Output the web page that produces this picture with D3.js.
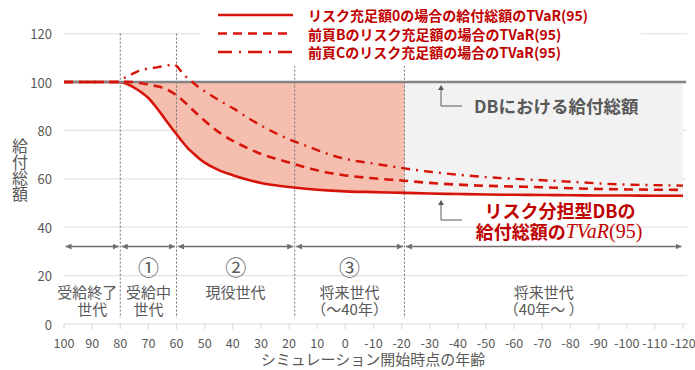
<!DOCTYPE html>
<html>
<head>
<meta charset="utf-8">
<script src="https://cdn.jsdelivr.net/npm/d3@7"></script>
<style>
  body { margin: 0; background: #fff; }
  svg { display: block; font-family: "Noto Sans CJK JP", "Noto Sans", sans-serif; }
</style>
</head>
<body>
<svg id="chart" width="695" height="370"></svg>
<script>
// Age at the start of the simulation (x axis runs from 100 down to -120)
const ages = [100, 90, 82, 80, 78, 76, 74, 72, 70, 68, 66, 64, 62, 61, 60, 58, 56, 54, 52, 50,
  45, 40, 35, 30, 25, 20, 15, 10, 5, 0, -10, -21, -30, -40, -50, -60, -70, -80, -90, -100, -110, -120];

// Total benefits, TVaR(95), with zero risk reserve
const riskZero = [100, 100, 100, 99.9, 99.4, 98.3, 96.9, 95.3, 93.4, 90.7, 87.7, 84.5, 81.4, 79.9, 78.4, 75.4, 72.7, 70.5, 68.4, 66.7,
  63.6, 61.5, 59.7, 58.3, 57.3, 56.6, 56.0, 55.5, 55.1, 54.8, 54.5, 54.2, 53.9, 53.7, 53.5, 53.4, 53.3, 53.2, 53.1, 53.1, 53.0, 53.0];

// Total benefits, TVaR(95), with the risk reserve of case B
const pageB = [100, 100, 100, 100, 100.1, 100, 99.7, 99.4, 99.0, 98.5, 98.0, 97.2, 96.0, 95.3, 94.5, 92.6, 90.5, 88.2, 86.0, 84.0,
  79.3, 75.7, 72.8, 70.3, 68.4, 66.7, 65.0, 63.5, 62.3, 61.4, 60.2, 59.2, 58.3, 57.6, 57.1, 56.8, 56.5, 56.1, 55.8, 55.6, 55.5, 55.4];

// Total benefits, TVaR(95), with the risk reserve of case C
const pageC = [100, 100, 100, 100.3, 102.1, 103.2, 104.3, 105.0, 105.6, 105.9, 106.3, 106.7, 107.1, 107.3, 106.6, 103.9, 101.5, 99.6, 97.7, 96.2,
  92.5, 89.2, 85.5, 82.0, 79.0, 76.3, 74.1, 71.9, 69.8, 68.2, 66.3, 64.3, 62.9, 61.7, 60.7, 60.0, 59.4, 58.8, 58.1, 57.6, 57.4, 57.2];

// Defined-benefit level
const dbLevel = 100;

// Generation boundaries (ages)
const dividerAges = [80, 60, 18, -21];
const arrowValue = 32;          // value at which the generation arrows sit
const annotationAge = -34;      // age where the callout arrows point

const xTicks = d3.range(100, -121, -10);
const yTicks = [0, 20, 40, 60, 80, 100, 120];

const legendLabels = [
  "リスク充足額0の場合の給付総額のTVaR(95)",
  "前頁Bのリスク充足額の場合のTVaR(95)",
  "前頁Cのリスク充足額の場合のTVaR(95)"
];

const generationNumbers = ["", "①", "②", "③", ""];
const generationLines = [
  ["受給終了", "世代"],
  ["受給中", "世代"],
  ["現役世代"],
  ["将来世代", "（～40年）"],
  ["将来世代", "（40年～ ）"]
];

const yTitle = "給付総額";
const xTitle = "シミュレーション開始時点の年齢";
const dbNote = "DBにおける給付総額";
const riskNote1 = "リスク分担型DBの";
const riskNote2a = "給付総額の";
const riskNote2b = "TVaR";
const riskNote2c = "(95)";

// ---- drawing ----
const svg = d3.select("#chart");
const x = d3.scaleLinear().domain([100, -120]).range([64, 683]);
const y = d3.scaleLinear().domain([0, 120]).range([324, 33.6]);

const RED = "#d7140a";
const DARKRED = "#c00000";
const GREY = "#595959";

const rows = ages.map((a, i) => ({ age: a, r0: riskZero[i], b: pageB[i], c: pageC[i] }));
const curve = d3.curveMonotoneX;

// gridlines
svg.append("g").selectAll("line").data(yTicks.filter(d => d > 0)).join("line")
  .attr("x1", 64).attr("x2", 687)
  .attr("y1", d => y(d)).attr("y2", d => y(d))
  .attr("stroke", "#e3e3e3").attr("stroke-width", 1.2);

// x axis line and ticks
svg.append("line").attr("x1", 64).attr("x2", 687).attr("y1", y(0)).attr("y2", y(0))
  .attr("stroke", "#d9d9d9").attr("stroke-width", 1.2);
svg.append("g").selectAll("line").data(xTicks).join("line")
  .attr("x1", d => x(d)).attr("x2", d => x(d))
  .attr("y1", y(0)).attr("y2", y(0) + 5)
  .attr("stroke", "#d9d9d9").attr("stroke-width", 1.2);

// clip regions for the two shaded areas
const defs = svg.append("defs");
defs.append("clipPath").attr("id", "clipShare")
  .append("rect").attr("x", x(dividerAges[0])).attr("y", 0)
  .attr("width", x(dividerAges[3]) - x(dividerAges[0])).attr("height", 370);
defs.append("clipPath").attr("id", "clipFuture")
  .append("rect").attr("x", x(dividerAges[3])).attr("y", 0)
  .attr("width", x(-120) - x(dividerAges[3]) + 2).attr("height", 370);

const gapArea = d3.area().curve(curve)
  .x(d => x(d.age)).y0(d => y(d.r0)).y1(() => y(dbLevel));

svg.append("path").datum(rows).attr("d", gapArea)
  .attr("fill", "#f2f2f2").attr("clip-path", "url(#clipFuture)");
svg.append("path").datum(rows).attr("d", gapArea)
  .attr("fill", "#f5bfb0").attr("clip-path", "url(#clipShare)");

// generation dividers
svg.append("g").selectAll("line").data(dividerAges).join("line")
  .attr("x1", d => x(d)).attr("x2", d => x(d))
  .attr("y1", y(120)).attr("y2", 318)
  .attr("stroke", "#6f6f6f").attr("stroke-width", 1).attr("stroke-dasharray", "2,2");

// series lines
const line = key => d3.line().curve(curve).x(d => x(d.age)).y(d => y(d[key]));

svg.append("path").datum(rows).attr("d", line("r0"))
  .attr("fill", "none").attr("stroke", RED).attr("stroke-width", 2.6);

svg.append("line").attr("x1", x(100)).attr("x2", x(-120) + 3)
  .attr("y1", y(dbLevel)).attr("y2", y(dbLevel))
  .attr("stroke", "#858585").attr("stroke-width", 2.4);

svg.append("path").datum(rows).attr("d", line("b"))
  .attr("fill", "none").attr("stroke", RED).attr("stroke-width", 2.6)
  .attr("stroke-dasharray", "9,6");

svg.append("path").datum(rows).attr("d", line("c"))
  .attr("fill", "none").attr("stroke", RED).attr("stroke-width", 2.4)
  .attr("stroke-dasharray", "9,6,2,6");

// generation arrows
const bounds = [100, ...dividerAges, -120];
defs.append("marker").attr("id", "arrowEnd").attr("viewBox", "0 0 10 10")
  .attr("refX", 10).attr("refY", 5).attr("markerWidth", 6).attr("markerHeight", 6)
  .attr("markerUnits", "userSpaceOnUse").attr("orient", "auto-start-reverse")
  .append("path").attr("d", "M0,0L10,5L0,10Z").attr("fill", "#707070");

const segs = d3.range(bounds.length - 1).map(i => [bounds[i], bounds[i + 1]]);
svg.append("g").selectAll("line").data(segs).join("line")
  .attr("x1", d => x(d[0]) + 1.5).attr("x2", d => x(d[1]) - 1.5)
  .attr("y1", y(arrowValue)).attr("y2", y(arrowValue))
  .attr("stroke", "#707070").attr("stroke-width", 1.4)
  .attr("marker-start", "url(#arrowEnd)").attr("marker-end", "url(#arrowEnd)");

// generation labels
const genG = svg.append("g").attr("fill", GREY).attr("text-anchor", "middle");
segs.forEach((s, i) => {
  const cx = (x(s[0]) + x(s[1])) / 2;
  if (generationNumbers[i]) {
    genG.append("text").attr("x", cx).attr("y", 266)
      .attr("dominant-baseline", "central").attr("font-size", 21)
      .text(generationNumbers[i]);
  }
  generationLines[i].forEach((t, j) => {
    const tx = genG.append("text").attr("y", 291 + j * 17)
      .attr("dominant-baseline", "central").attr("font-size", 15).text(t);
    const w = tx.node().getComputedTextLength();
    tx.attr("x", Math.min(cx, x(s[1]) - w / 2 - 3));
  });
});

// y axis labels
svg.append("g").selectAll("text").data(yTicks).join("text")
  .attr("x", 52).attr("y", d => y(d)).attr("text-anchor", "end")
  .attr("dominant-baseline", "central").attr("font-size", 13).attr("fill", GREY)
  .text(d => d);

// x axis labels
svg.append("g").selectAll("text").data(xTicks).join("text")
  .attr("x", d => x(d)).attr("y", 342).attr("text-anchor", "middle")
  .attr("dominant-baseline", "central").attr("font-size", 12.6).attr("fill", GREY)
  .text(d => String(d));

// axis titles
svg.append("text").attr("x", 373).attr("y", 358).attr("text-anchor", "middle")
  .attr("dominant-baseline", "central").attr("font-size", 15).attr("fill", GREY)
  .text(xTitle);
svg.append("text").attr("x", 20).attr("y", 138)
  .style("writing-mode", "vertical-rl").style("text-orientation", "upright")
  .attr("font-size", 16).attr("fill", GREY)
  .text(yTitle);

// legend
const leg = svg.append("g");
leg.append("rect").attr("x", 200).attr("y", 0).attr("width", 441).attr("height", 66).attr("fill", "#fff");
const dashes = [null, "9,6", "14,7,2,7"];
legendLabels.forEach((t, i) => {
  const ly = 15 + i * 18.5;
  leg.append("line").attr("x1", 218).attr("x2", 293).attr("y1", ly).attr("y2", ly)
    .attr("stroke", RED).attr("stroke-width", 2.6)
    .attr("stroke-dasharray", dashes[i]);
  leg.append("text").attr("x", 308).attr("y", ly).attr("dominant-baseline", "central")
    .attr("font-size", 14).attr("font-weight", "bold").attr("fill", DARKRED).text(t);
});

// callout for the DB level
const ax = x(annotationAge);
const dbY = y(dbLevel);
svg.append("path")
  .attr("d", `M${ax + 21},${dbY + 24}H${ax}V${dbY + 7}`)
  .attr("fill", "none").attr("stroke", GREY).attr("stroke-width", 1);
svg.append("path").attr("d", `M${ax - 3},${dbY + 8}L${ax},${dbY + 3}L${ax + 3},${dbY + 8}Z`).attr("fill", GREY);
svg.append("text").attr("x", ax + 33).attr("y", dbY + 23).attr("dominant-baseline", "central")
  .attr("font-size", 17.5).attr("font-weight", "bold").attr("fill", GREY).text(dbNote);

// callout for the risk-sharing DB line
const rIdx = ages.indexOf(-40);
const rY = y(riskZero[rIdx]);
svg.append("path")
  .attr("d", `M${ax + 21},${rY + 26}H${ax}V${rY + 10}`)
  .attr("fill", "none").attr("stroke", GREY).attr("stroke-width", 1);
svg.append("path").attr("d", `M${ax - 3},${rY + 11}L${ax},${rY + 6}L${ax + 3},${rY + 11}Z`).attr("fill", GREY);
svg.append("text").attr("x", 560).attr("y", 210).attr("text-anchor", "middle")
  .attr("dominant-baseline", "central").attr("font-size", 18).attr("font-weight", "bold")
  .attr("fill", DARKRED).text(riskNote1);
const t2 = svg.append("text").attr("x", 559).attr("y", 231).attr("text-anchor", "middle")
  .attr("dominant-baseline", "central").attr("font-size", 18).attr("font-weight", "bold")
  .attr("fill", DARKRED);
t2.append("tspan").text(riskNote2a);
t2.append("tspan").attr("font-family", "'Liberation Serif', 'DejaVu Serif', serif")
  .attr("font-style", "italic").attr("font-size", 20).attr("font-weight", "normal").text(riskNote2b);
t2.append("tspan").attr("font-family", "'Liberation Serif', 'DejaVu Serif', serif")
  .attr("font-size", 20).attr("font-weight", "normal").text(riskNote2c);
</script>
</body>
</html>
